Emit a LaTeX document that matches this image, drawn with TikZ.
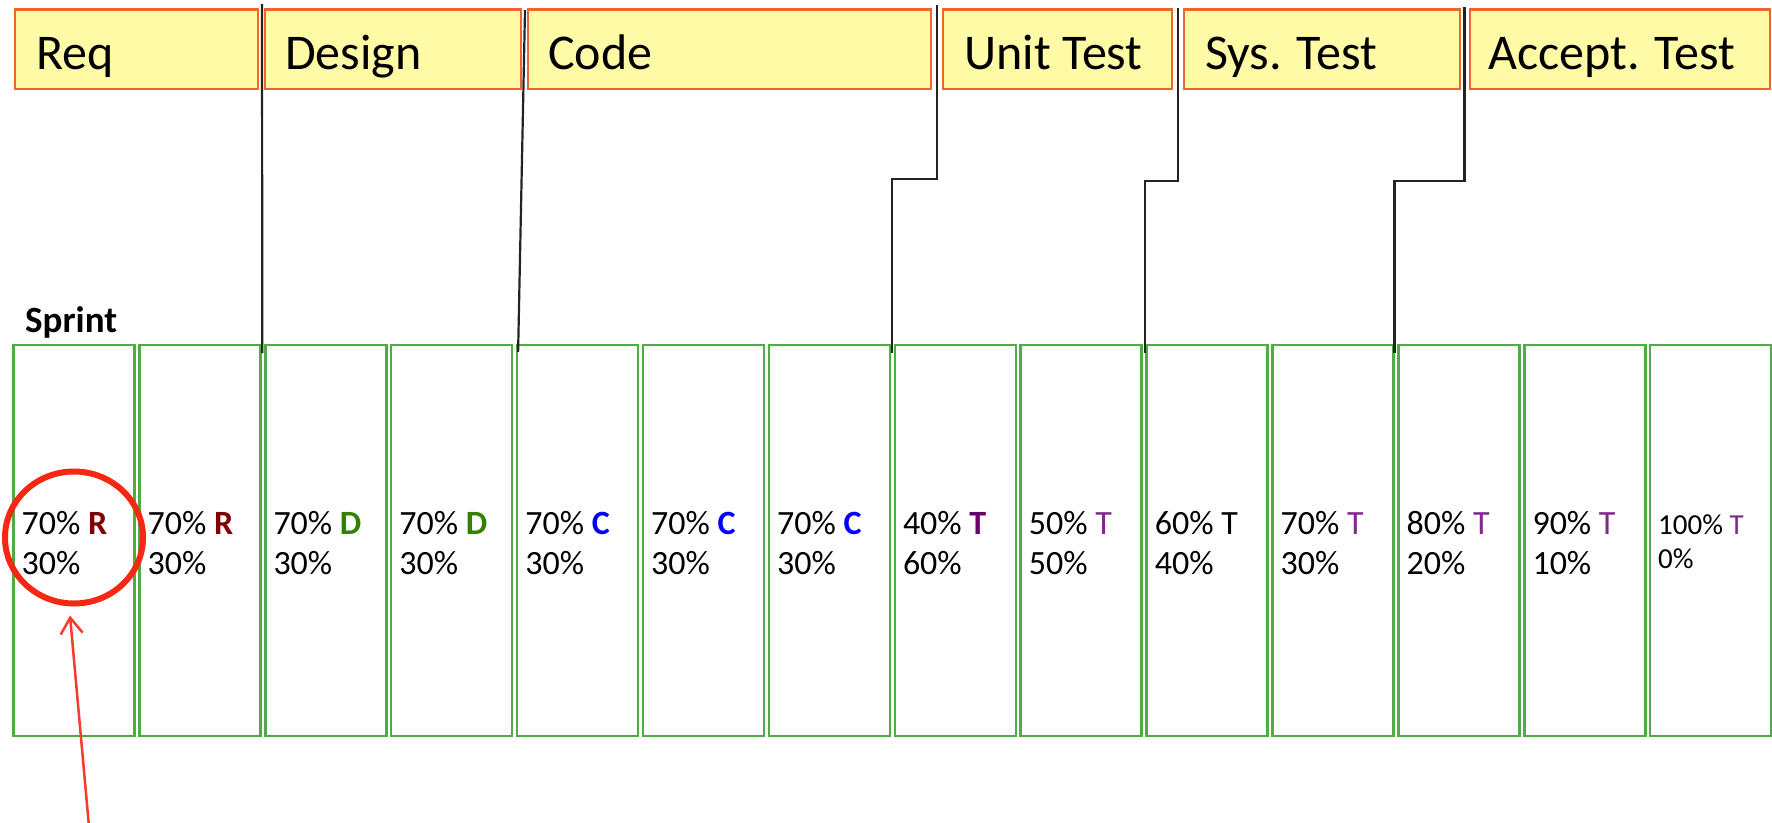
\documentclass[tikz,border=0pt]{standalone}
\usepackage{fontspec}
\setmainfont{Carlito}
\usetikzlibrary{arrows.meta,calc,shapes.geometric}
\definecolor{hdrfill}{RGB}{255,250,165}
\definecolor{hdrdraw}{RGB}{240,100,45}
\definecolor{sgreen}{RGB}{80,170,70}
\definecolor{rcol}{RGB}{128,0,0}
\definecolor{dcol}{RGB}{50,130,0}
\definecolor{ccol}{RGB}{0,0,255}
\definecolor{tcol}{RGB}{105,0,105}
\definecolor{tcoll}{RGB}{128,40,140}
\definecolor{circred}{RGB}{245,40,20}
\definecolor{arrred}{RGB}{245,60,40}
\definecolor{conncol}{RGB}{35,35,35}
\newcommand\myR{\textbf{\color{rcol}R}}
\newcommand\myD{\textbf{\color{dcol}D}}
\newcommand\myC{\textbf{\color{ccol}C}}
\newcommand\myTb{\textbf{\color{tcol}T}}
\newcommand\myT{{\color{tcoll}T}}
\begin{document}
\begin{tikzpicture}[x=1pt,y=-1pt,
  hdr/.style={draw=hdrdraw,fill=hdrfill,line width=2.5pt,rectangle,minimum height=79.5pt,inner sep=0pt,outer sep=0pt},
  htxt/.style={anchor=base west,inner sep=0pt,font=\fontsize{50}{60}\selectfont},
  sbox/.style={draw=sgreen,line width=2.5pt,rectangle,minimum width=121pt,minimum height=391pt,inner sep=0pt,outer sep=0pt},
  pct/.style={anchor=base west,inner sep=0pt,font=\fontsize{34}{40}\selectfont},
  pctsmall/.style={anchor=base west,inner sep=0pt,font=\fontsize{29}{34}\selectfont},
  conn/.style={draw=conncol,line width=2.2pt},
  hl/.style={draw=circred,line width=6pt,ellipse,inner sep=0pt,outer sep=0pt},
  rarrow/.style={draw=arrred,line width=2.5pt,-{Straight Barb[length=16pt,width=22pt]}}
]
\useasboundingbox (0,0) rectangle (1772,822);

% header boxes
\node[hdr,minimum width=243pt] (h1) at (136.5,49.25) {};
\node[hdr,minimum width=256pt] (h2) at (393,49.25) {};
\node[hdr,minimum width=403pt] (h3) at (729.5,49.25) {};
\node[hdr,minimum width=229pt] (h4) at (1057.5,49.25) {};
\node[hdr,minimum width=276pt] (h5) at (1322,49.25) {};
\node[hdr,minimum width=300pt] (h6) at (1620,49.25) {};
\node[htxt] (h1t) at (36,69) {Req};
\node[htxt] (h2t) at (285,69) {Design};
\node[htxt] (h3t) at (548,69) {Code};
\node[htxt] (h4t) at (964,69) {Unit Test};
\node[htxt] (h5t) at (1205,69) {Sys. Test};
\node[htxt] (h6t) at (1488,69) {Accept. Test};

% sprint label
\node[anchor=base west,inner sep=0pt,font=\bfseries\fontsize{37}{42}\selectfont] (sprint) at (25,332) {Sprint};

% sprint boxes
\foreach \i/\ta/\tb in {1/{70\% \myR}/{30\%},2/{70\% \myR}/{30\%},3/{70\% \myD}/{30\%},4/{70\% \myD}/{30\%},5/{70\% \myC}/{30\%},6/{70\% \myC}/{30\%},7/{70\% \myC}/{30\%},8/{40\% \myTb}/{60\%},9/{50\% \myT}/{50\%},10/{60\% T}/{40\%},11/{70\% \myT}/{30\%},12/{80\% \myT}/{20\%},13/{90\% \myT}/{10\%}}{
  \pgfmathsetmacro\L{13.5+125.9*(\i-1)}
  \node[sbox] (s\i) at (\L+60.5,540.5) {};
  \node[pct] (a\i) at (\L+8,534) {\ta};
  \node[pct] (b\i) at (\L+8,574) {\tb};
}
\node[sbox] (s14) at (1650.2+60.5,540.5) {};
\node[pctsmall] (a14) at (1658,534) {100\% \myT};
\node[pctsmall] (b14) at (1658,568) {0\%};

% connectors
\coordinate (d0) at (262,4);
\coordinate (d1) at ($(s3.north west)+(-3,8)$);
\coordinate (c0) at (525,10);
\coordinate (c1) at ($(s5.north west)+(1,7)$);
\coordinate (u0) at (937,5);
\coordinate (u1) at ($(s8.north west)+(-2.5,8)$);
\coordinate (y0) at (1178,8);
\coordinate (y1) at ($(s10.north west)+(-2,8)$);
\coordinate (p0) at (1464.5,7);
\coordinate (p1) at ($(s12.north west)+(-4,8)$);
\draw[conn] (d0) -- (d1);
\draw[conn] (c0) -- (c1);
\draw[conn] (u0) -- ++(0,174) -| (u1);
\draw[conn] (y0) -- ++(0,173) -| (y1);
\draw[conn] (p0) -- ++(0,174) -| (p1);

% highlight circle and arrow
\node[hl,minimum width=138pt,minimum height=132pt] (hlc) at (74,537.5) {};
\coordinate (at) at (89.3,830);
\draw[rarrow] (at) -- ($(hlc.south)+(-4,12)$);
\end{tikzpicture}
\end{document}
